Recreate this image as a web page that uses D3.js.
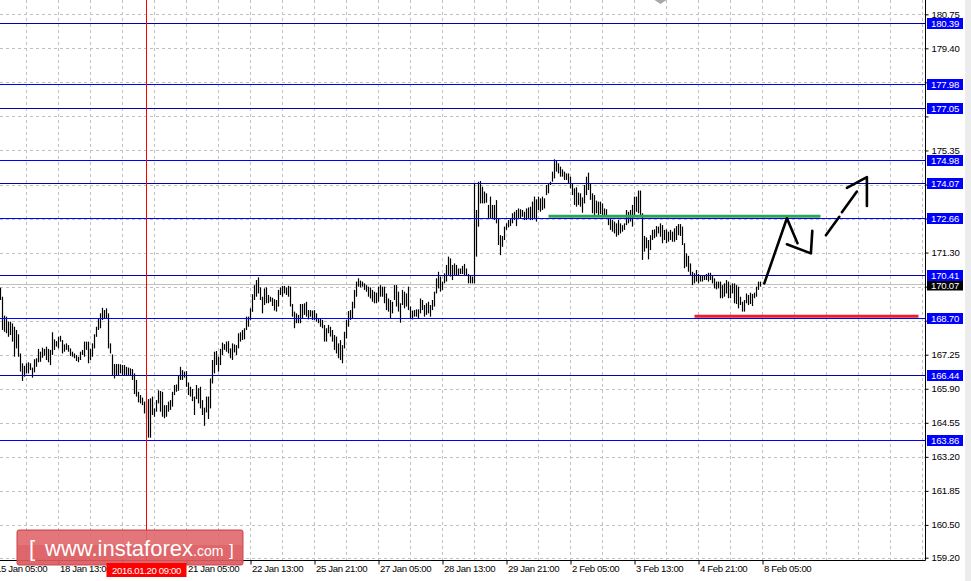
<!DOCTYPE html>
<html><head><meta charset="utf-8">
<script src="https://cdn.jsdelivr.net/npm/d3@7"></script>
<style>
html,body{margin:0;padding:0;background:#fff;}
svg{display:block;}
text{font-family:"Liberation Sans",Arial,sans-serif;}
</style>
</head><body>
<svg id="c" width="971" height="581"></svg>
<script>
// ---------- DATA (H1 bars) ----------
const barHigh = [
169.91,169.55,168.80,168.76,168.56,168.56,168.49,168.36,168.23,168.06,
167.30,166.91,166.81,166.91,166.95,166.91,166.74,167.07,167.11,167.48,
167.37,167.53,167.48,167.57,167.48,167.44,168.14,167.86,167.79,167.96,
168.00,167.83,167.66,167.70,167.63,167.50,167.37,167.30,167.24,167.17,
167.37,167.44,167.77,167.77,167.77,167.48,167.70,168.06,168.36,168.67,
168.89,169.11,169.02,169.09,168.89,167.70,167.26,166.88,166.88,166.88,
166.87,166.84,166.84,166.77,166.74,166.71,166.68,166.51,166.25,165.78,
165.65,165.55,165.39,165.40,165.49,165.52,165.59,165.12,165.45,165.84,
165.81,165.78,165.25,165.25,165.39,165.45,165.78,166.05,166.07,166.44,
166.77,166.64,166.58,166.60,166.15,165.98,165.89,165.59,166.05,165.92,
165.98,165.45,165.15,165.59,165.59,166.31,167.04,167.37,167.40,167.17,
167.48,167.73,167.67,167.77,167.79,167.50,167.70,167.66,167.63,168.10,
168.14,168.23,168.30,168.76,168.76,169.09,169.65,170.01,170.21,170.32,
169.92,169.55,169.88,169.92,169.62,169.55,169.51,169.45,169.42,169.82,
169.92,169.98,169.98,169.92,169.98,169.95,169.26,168.96,168.89,168.83,
169.26,169.26,169.29,169.35,169.02,169.02,169.00,169.02,168.89,168.69,
168.69,168.63,168.43,168.30,168.43,168.36,168.23,168.03,167.97,167.70,
167.83,167.63,168.16,168.63,168.98,169.02,169.35,169.82,170.15,170.28,
170.19,170.15,170.08,170.01,169.95,169.92,169.82,169.75,169.71,169.95,
170.01,169.95,169.95,169.68,169.48,169.42,169.35,170.01,170.01,169.75,
169.29,169.82,169.75,169.68,169.95,169.16,169.00,169.02,169.05,169.05,
169.48,169.42,169.22,169.29,169.35,169.22,169.42,169.75,170.28,170.54,
170.35,170.15,170.48,170.81,171.14,171.07,170.81,170.87,170.81,170.67,
170.67,170.77,170.85,170.67,170.45,170.41,170.35,174.05,172.99,174.11,
174.14,173.91,173.72,173.65,173.19,173.52,173.19,173.19,173.38,172.66,
171.99,171.96,172.33,172.46,
172.59,172.66,172.86,172.92,172.99,173.05,173.02,172.99,172.92,173.05,
173.09,173.12,173.32,173.52,173.41,173.52,173.45,173.52,173.45,173.98,
174.05,174.11,174.51,175.00,174.95,174.84,174.71,174.60,174.51,174.44,
174.44,174.31,174.05,173.85,173.89,173.68,173.65,173.49,173.98,174.31,
174.47,174.05,173.65,173.58,173.36,173.32,173.32,173.25,173.05,173.02,
172.66,172.66,172.59,172.53,172.46,172.59,172.46,172.39,172.46,172.99,
172.92,172.99,173.19,173.52,173.52,173.76,173.76,172.86,171.96,171.90,
171.80,171.99,172.20,172.22,172.35,172.33,172.46,172.39,172.20,172.22,
172.13,172.20,172.13,172.26,172.35,172.43,172.43,172.33,171.67,171.27,
171.17,170.87,170.54,170.48,170.61,170.45,170.41,170.41,170.41,170.45,
170.50,170.50,170.37,170.28,170.15,170.15,170.15,170.01,170.08,170.21,
170.15,170.01,170.08,170.08,170.01,169.95,169.55,169.35,169.42,169.68,
169.62,169.71,169.66,169.71,169.95,170.15,170.15];

const barLow = [
169.42,168.23,168.16,168.10,167.96,168.03,167.77,167.17,167.50,167.17,
166.58,166.21,166.38,166.51,166.51,166.64,166.34,166.55,166.77,166.95,
166.97,167.13,167.21,167.04,166.95,166.84,167.24,167.44,167.57,167.50,
167.77,167.30,167.37,167.44,167.37,167.20,167.17,167.11,167.00,166.95,
167.04,167.24,167.17,167.44,166.91,167.04,167.17,167.50,167.96,168.23,
168.30,168.63,168.69,168.67,167.50,167.30,166.44,166.31,166.44,166.42,
166.51,166.42,166.44,166.44,166.42,166.44,166.25,165.69,165.59,165.36,
165.32,165.25,164.92,164.70,163.96,163.96,164.86,164.79,164.99,165.32,
164.99,164.79,164.73,164.79,164.99,165.06,165.19,165.65,165.78,165.82,
166.25,166.25,166.34,165.98,165.65,165.59,165.41,164.86,165.49,165.32,
165.12,164.86,164.43,164.96,164.70,165.12,166.11,166.51,166.84,166.58,
166.84,167.24,167.44,167.37,167.30,167.11,167.04,167.34,167.24,167.50,
167.77,167.83,167.86,168.23,168.36,168.63,168.95,169.42,169.55,169.68,
169.42,168.89,169.22,169.29,169.29,169.35,169.18,169.00,168.96,169.16,
169.62,169.55,169.68,169.62,169.55,169.16,168.76,168.30,168.50,168.50,
168.50,168.69,168.83,168.76,168.65,168.76,168.63,168.63,168.56,168.50,
168.36,168.30,167.77,167.77,168.10,167.97,167.77,167.44,167.30,167.11,
167.04,166.91,167.50,167.90,168.36,168.63,168.69,169.09,169.55,169.95,
169.92,169.95,169.82,169.75,169.55,169.48,169.35,169.29,169.29,169.35,
169.55,169.55,169.29,169.02,168.96,168.69,168.89,169.42,169.16,168.96,
168.52,169.22,169.09,169.16,169.02,168.69,168.65,168.76,168.76,168.69,
168.89,169.02,168.76,168.83,168.89,168.76,169.02,169.16,169.68,169.88,
169.75,169.82,170.08,170.15,170.41,170.35,170.21,170.41,170.41,170.41,
170.45,170.45,170.37,170.41,170.08,170.08,170.08,170.08,171.14,172.33,
173.25,173.25,173.25,173.28,172.66,172.66,172.66,172.59,172.46,171.60,
171.20,171.53,171.80,172.20,
172.30,172.35,172.46,172.59,172.35,172.66,172.66,172.72,172.59,172.59,
172.66,172.59,172.59,172.66,172.53,172.99,172.92,172.99,173.05,173.58,
173.65,173.98,174.11,174.24,174.51,174.44,174.31,174.31,174.18,174.18,
174.05,173.85,173.58,173.19,173.12,173.19,173.12,172.88,173.25,173.58,
173.78,173.39,172.86,172.79,172.86,172.79,172.83,172.79,172.79,172.79,
172.39,172.20,172.13,172.06,171.93,171.99,172.06,172.13,172.20,172.39,
172.46,172.53,172.33,172.72,172.92,172.86,172.79,171.01,171.34,171.47,
171.03,171.40,171.80,171.87,171.93,172.06,171.93,171.67,171.80,171.67,
171.73,171.80,171.73,171.73,171.80,171.99,171.96,171.60,170.68,170.74,
170.54,170.41,170.01,170.08,170.15,170.08,170.15,170.15,170.21,170.21,
170.15,170.21,170.08,169.88,169.84,169.88,169.49,169.49,169.55,169.68,
169.49,169.49,169.68,169.29,169.26,169.09,169.22,168.96,168.96,169.29,
169.22,169.26,169.18,169.49,169.55,169.82,169.95];

const priceTicks = [180.75,179.40,178.05,176.70,175.35,174.00,172.65,171.30,169.95,168.60,167.25,165.90,164.55,163.20,161.85,160.50,159.20];
const levelPrices = [180.39,177.98,177.05,174.98,174.07,172.66,170.41,168.70,166.44,163.86];
const levelShade  = ["dark","blue","dark","blue","dark","blue","dark","blue","dark","blue"];
const currentPrice = 170.07;
const timeTickBars = [-3,29,61,93,125,157,189,221,253,285,317,349,381];
const timeTickLabels = ["15 Jan 05:00","18 Jan 13:00","19 Jan 21:00","21 Jan 05:00","22 Jan 13:00","25 Jan 21:00","27 Jan 05:00","28 Jan 13:00","29 Jan 21:00","2 Feb 05:00","3 Feb 13:00","4 Feb 21:00","8 Feb 05:00"];
const cursorBar = [73];
const cursorLabel = ["2016.01.20 09:00"];
const resistanceSeg = [[274,172.74],[410,172.74]];
const supportSeg = [[347,168.78],[459,168.78]];
const arrowSolidPath = [[381.9,170.08],[393.2,172.66],[398.5,171.67]];
const arrowSolidHead = [[393.2,171.63],[405.2,171.27],[405.9,172.16]];
const arrowDash1 = [[412.7,171.99],[419.4,172.72]];
const arrowDash2 = [[420.7,172.90],[428.2,173.72]];
const arrowDashHead = [[423.2,173.87],[433.2,174.29],[433.2,173.15]];

// ---------- LAYOUT ----------
const W = 971, H = 581;
const plotRight = 925.5, axisY = 560.5;
const svg = d3.select("#c");
svg.append("rect").attr("width",W).attr("height",H).attr("fill","#fff");

const y = d3.scaleLinear().domain([159.20,180.75]).range([557.7,14.3]);
const x = d3.scaleLinear().domain([0,380]).range([0.5,760.5]);
const py = v => Math.round(y(v)) + 0.5;

const plot = svg.append("g");
plot.append("clipPath").attr("id","pc").append("rect").attr("x",0).attr("y",0).attr("width",plotRight).attr("height",axisY);
const g = plot.append("g").attr("clip-path","url(#pc)");

// grid
const gridBars = d3.range(13, 470, 16);
g.selectAll(".vg").data(gridBars).join("line")
  .attr("x1",d=>x(d)).attr("x2",d=>x(d)).attr("y1",0).attr("y2",axisY)
  .attr("stroke","#c0c0c0").attr("stroke-dasharray","3,3");
g.selectAll(".hg").data(priceTicks).join("line")
  .attr("x1",0).attr("x2",plotRight).attr("y1",d=>py(d)).attr("y2",d=>py(d))
  .attr("stroke","#c0c0c0").attr("stroke-dasharray","3,3");

// current price line
g.append("line").attr("x1",0).attr("x2",plotRight).attr("y1",py(currentPrice)).attr("y2",py(currentPrice))
  .attr("stroke","#c0c0c0");

// bars
g.selectAll(".bar").data(barHigh).join("line")
  .attr("x1",(d,i)=>x(i)).attr("x2",(d,i)=>x(i))
  .attr("y1",d=>y(d)).attr("y2",(d,i)=>y(barLow[i]))
  .attr("stroke","#000").attr("stroke-width",1.2);

// level lines
const shadeColor = {blue:"#0000ff", dark:"#0000b4"};
g.selectAll(".lvl").data(levelPrices).join("line")
  .attr("x1",0).attr("x2",plotRight).attr("y1",d=>py(d)).attr("y2",d=>py(d))
  .attr("stroke",(d,i)=>shadeColor[levelShade[i]]).attr("stroke-width",1);

// green resistance, red support
const seg = d3.line().x(d=>x(d[0])).y(d=>y(d[1]));
g.append("path").attr("d",seg(resistanceSeg)).attr("stroke","#2ca55a").attr("stroke-width",3).attr("fill","none");
g.append("path").attr("d",seg(supportSeg)).attr("stroke","#e8202a").attr("stroke-width",3).attr("fill","none");

// arrows
[arrowSolidPath, arrowSolidHead, arrowDash1, arrowDash2, arrowDashHead].forEach(p=>{
  g.append("path").attr("d",seg(p)).attr("stroke","#000").attr("stroke-width",2.6)
   .attr("fill","none").attr("stroke-linecap","round").attr("stroke-linejoin","round");
});

// cursor red vertical
g.selectAll(".cur").data(cursorBar).join("line")
  .attr("x1",d=>x(d)).attr("x2",d=>x(d)).attr("y1",0).attr("y2",axisY)
  .attr("stroke","#ff0000");

// shift marker
svg.append("path").attr("d",`M${x(327)},0 L${x(333)},0 L${x(330)},4 Z`).attr("fill","#a8a8a8");

// ---------- AXES ----------
svg.append("line").attr("x1",plotRight).attr("x2",plotRight).attr("y1",0).attr("y2",axisY).attr("stroke","#000");
svg.append("line").attr("x1",0).attr("x2",plotRight).attr("y1",axisY).attr("y2",axisY).attr("stroke","#000");

// tick labels hidden where a level box covers them (as in the terminal)
const boxPrices = levelPrices.concat([currentPrice]);
const covered = v => boxPrices.some(b => Math.abs(y(b) - y(v)) < 9);
const yAxis = d3.axisRight(y).tickValues(priceTicks).tickSize(3).tickSizeOuter(0)
  .tickPadding(3).tickFormat(v => covered(v) ? "" : d3.format(".2f")(v));
const ya = svg.append("g").attr("transform",`translate(${plotRight},0)`).call(yAxis);
ya.select(".domain").remove();
ya.selectAll("line").attr("stroke","#000");
ya.selectAll("text").attr("font-size","9.6px").attr("letter-spacing","-0.2px").attr("fill","#000")
  .attr("font-family","'Liberation Sans',Arial,sans-serif");

const cursorCovered = i => cursorBar.some(c => Math.abs(x(c) - x(timeTickBars[i])) < 40 && timeTickBars[i] > c - 20);
const xAxis = d3.axisBottom(x).tickValues(timeTickBars).tickSize(4).tickSizeOuter(0)
  .tickFormat((d,i)=> cursorCovered(i) ? "" : timeTickLabels[i]);
const xa = svg.append("g").attr("transform",`translate(0,${axisY})`).call(xAxis);
xa.select(".domain").remove();
xa.selectAll("line").attr("stroke","#000");
xa.selectAll("text").attr("text-anchor","start").attr("x",1).attr("y",5).attr("dy","0.71em")
  .attr("font-size","9.6px").attr("letter-spacing","-0.35px").attr("fill","#000")
  .attr("font-family","'Liberation Sans',Arial,sans-serif");

// level labels (boxes)
const lab = svg.append("g");
lab.append("rect").attr("x",927).attr("y",py(currentPrice)-5).attr("width",36).attr("height",11).attr("fill","#000");
lab.append("text").attr("x",931).attr("y",py(currentPrice)+4).attr("fill","#fff").attr("font-size","9.6px").attr("letter-spacing","-0.2px").text(currentPrice.toFixed(2));
const lg = lab.selectAll(".lb").data(levelPrices).join("g");
lg.append("rect").attr("x",927).attr("y",d=>py(d)-5.5).attr("width",36).attr("height",11).attr("fill","#0000ff");
lg.append("text").attr("x",931).attr("y",d=>py(d)+3.5).attr("fill","#fff").attr("font-size","9.6px").attr("letter-spacing","-0.2px").text(d=>d.toFixed(2));

// right mini strip
svg.append("rect").attr("x",965).attr("y",0).attr("width",6).attr("height",H).attr("fill","#ececec");

// ---------- WATERMARK ----------
const wm = svg.append("g");
wm.append("rect").attr("x",17).attr("y",530).attr("width",226).attr("height",35).attr("rx",2)
  .attr("fill","#dc5a5e").attr("fill-opacity",0.92).attr("stroke","#c9484c");
wm.append("rect").attr("x",18).attr("y",531).attr("width",224).attr("height",14).attr("fill","#fff").attr("fill-opacity",0.1);
wm.append("text").attr("x",29).attr("y",556).attr("fill","#fff").attr("font-size","22px").text("[");
wm.append("text").attr("x",45).attr("y",556).attr("fill","#fff").attr("font-size","22px").text("www.instaforex");
wm.append("text").attr("x",193).attr("y",556).attr("fill","#fff").attr("font-size","14px").text(".com");
wm.append("text").attr("x",229).attr("y",556).attr("fill","#fff").attr("font-size","17px").text("]");

// cursor time label
const cl = svg.selectAll(".cl").data(cursorBar).join("g");
cl.append("rect").attr("x",d=>x(d)-40).attr("y",563).attr("width",80).attr("height",14).attr("fill","#ff0000");
cl.append("text").attr("x",d=>x(d)).attr("y",573.5).attr("text-anchor","middle").attr("fill","#fff")
  .attr("font-size","9.6px").attr("letter-spacing","-0.35px").text((d,i)=>cursorLabel[i]);
</script>
</body></html>
